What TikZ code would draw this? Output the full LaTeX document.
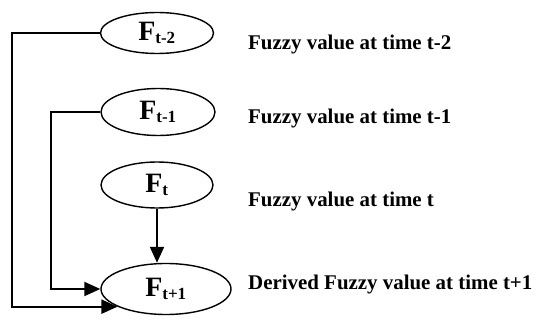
\documentclass[tikz,border=0pt]{standalone}
\usepackage{fontspec}
\setmainfont{Liberation Serif}
\usetikzlibrary{shapes.geometric,arrows.meta}
\newcommand{\flabel}[1]{F\textsubscript{\fontsize{17}{17}\selectfont #1}}
\begin{document}
\begin{tikzpicture}[x=1pt,y=-1pt,
  fnode/.style={draw,ellipse,line width=1.4pt,inner sep=0pt,font=\fontsize{28}{28}\selectfont\bfseries},
  desc/.style={anchor=base west,inner sep=0pt,font=\fontsize{20.9}{22}\selectfont\bfseries},
  conn/.style={line width=2pt},
  arr/.style={conn,-{Triangle[length=16pt,width=14pt]}}]
\useasboundingbox (0,0) rectangle (536,323);
\node[fnode,minimum width=113pt,minimum height=41pt] (e1) at (157,33) {\flabel{t-2}};
\node[fnode,minimum width=114pt,minimum height=47pt] (e2) at (158,112) {\flabel{t-1}};
\node[fnode,minimum width=112pt,minimum height=46pt] (e3) at (157,185) {\flabel{t}};
\node[fnode,minimum width=130pt,minimum height=51pt] (e4) at (166,289) {\flabel{t+1}};
\node[desc] (l1) at (248,50) {Fuzzy value at time t-2};
\node[desc] (l2) at (248,124) {Fuzzy value at time t-1};
\node[desc] (l3) at (248,207) {Fuzzy value at time t};
\node[desc] (l4) at (248,290) {Derived Fuzzy value at time t+1};
\coordinate (xo) at (12,0);
\coordinate (xi) at (51,0);
\draw[arr] (e1.west) -- (e1.west -| xo) |- (e4.200);
\draw[arr] (e2.west) -- (e2.west -| xi) |- (e4.west);
\draw[arr] (e3.south) -- (e3.south |- e4.north);
\end{tikzpicture}
\end{document}
